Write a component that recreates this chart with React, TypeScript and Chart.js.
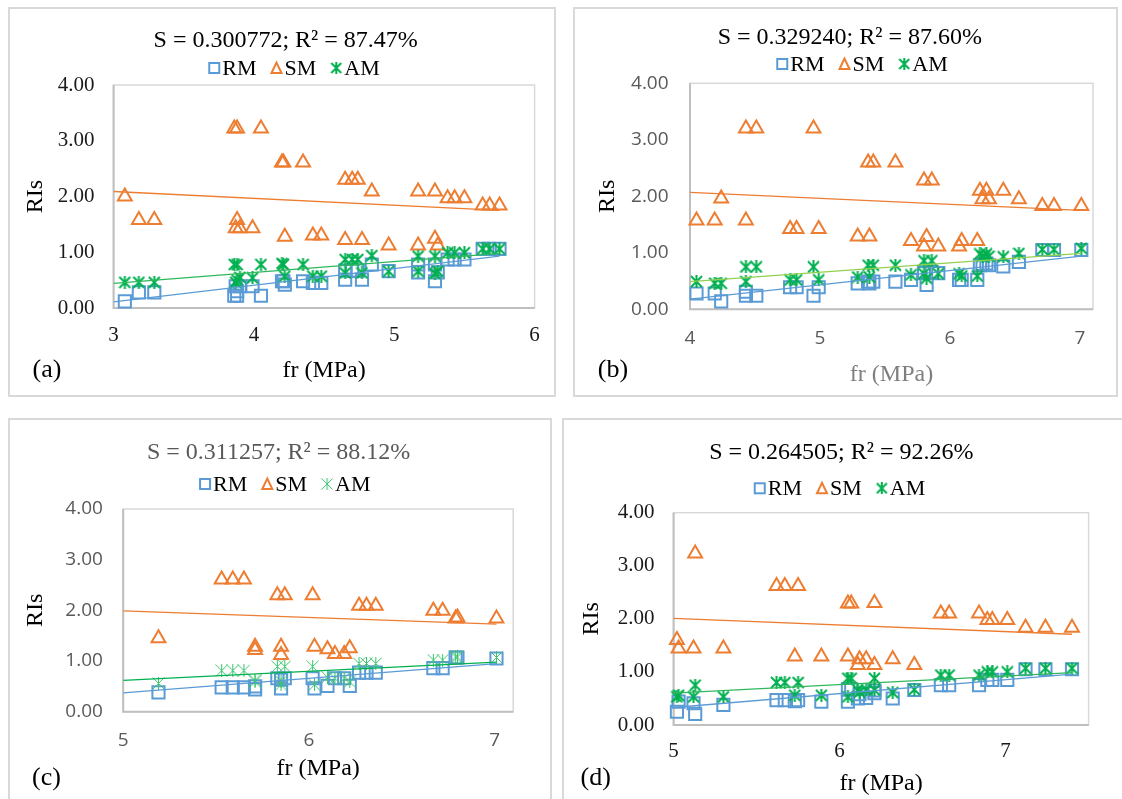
import React, { useEffect, useRef } from "react";
import { Chart, registerables } from "chart.js";

Chart.register(...registerables);

const SERIES = ["RM", "SM", "AM"];
const BLUE = "#5B9BD5";
const ORANGE = "#ED7D31";
const GREEN = "#00B050";
const SERIF = "'Liberation Serif', 'Times New Roman', serif";
const SANS = "'Open Sans', 'Liberation Sans', sans-serif";
const Y_TICKS = [0, 1, 2, 3, 4];

// (a) fr in MPa and the three RI series
const frA = [3.08, 3.18, 3.29, 3.86, 3.88, 3.87, 3.88, 3.9, 3.99, 4.05, 4.2, 4.21, 4.22, 4.35, 4.42, 4.48, 4.65, 4.65, 4.7, 4.74, 4.77, 4.84, 4.96, 5.17, 5.17, 5.29, 5.29, 5.31, 5.38, 5.43, 5.5, 5.63, 5.68, 5.75];
const rmA = [0.12, 0.28, 0.28, 0.22, 0.22, 0.39, 0.3, 0.39, 0.39, 0.22, 0.48, 0.48, 0.42, 0.48, 0.45, 0.45, 0.67, 0.51, 0.67, 0.67, 0.51, 0.78, 0.66, 0.78, 0.64, 0.78, 0.48, 0.64, 0.87, 0.87, 0.87, 1.06, 1.06, 1.06];
const smA = [2.0, 1.58, 1.58, 3.22, 3.22, 1.43, 1.58, 1.43, 1.43, 3.22, 2.61, 2.61, 1.28, 2.61, 1.3, 1.3, 2.3, 1.22, 2.3, 2.3, 1.22, 2.09, 1.12, 2.09, 1.12, 2.09, 1.24, 1.12, 1.97, 1.97, 1.97, 1.84, 1.84, 1.84];
const amA = [0.46, 0.46, 0.46, 0.78, 0.78, 0.46, 0.5, 0.55, 0.54, 0.78, 0.8, 0.78, 0.57, 0.78, 0.57, 0.57, 0.87, 0.63, 0.87, 0.87, 0.63, 0.94, 0.66, 0.93, 0.66, 0.93, 0.62, 0.66, 0.99, 0.99, 0.99, 1.06, 1.06, 1.06];
const xTicksA = [3, 4, 5, 6];
// fitted model lines: value at the axis start and at the last fr
const rmFitA = [0.11, 0.93];
const smFitA = [2.09, 1.75];
const amFitA = [0.44, 0.98];

// (b)
const frB = [4.05, 4.19, 4.24, 4.43, 4.43, 4.51, 4.77, 4.82, 4.95, 4.99, 5.29, 5.37, 5.38, 5.41, 5.58, 5.7, 5.8, 5.8, 5.82, 5.86, 5.91, 6.07, 6.09, 6.21, 6.23, 6.25, 6.28, 6.3, 6.41, 6.53, 6.71, 6.8, 7.01];
const rmB = [0.28, 0.28, 0.14, 0.24, 0.31, 0.24, 0.39, 0.39, 0.24, 0.39, 0.46, 0.49, 0.46, 0.49, 0.49, 0.52, 0.64, 0.66, 0.43, 0.66, 0.64, 0.52, 0.52, 0.52, 0.78, 0.8, 0.81, 0.78, 0.76, 0.84, 1.05, 1.05, 1.05];
const smB = [1.57, 1.57, 1.96, 3.2, 1.57, 3.2, 1.42, 1.42, 3.2, 1.42, 1.29, 2.6, 1.29, 2.6, 2.6, 1.21, 2.28, 1.11, 1.28, 2.28, 1.11, 1.11, 1.21, 1.21, 2.1, 1.95, 2.1, 1.95, 2.1, 1.95, 1.83, 1.83, 1.83];
const amB = [0.49, 0.46, 0.46, 0.75, 0.49, 0.75, 0.52, 0.52, 0.75, 0.52, 0.57, 0.78, 0.57, 0.78, 0.78, 0.61, 0.86, 0.63, 0.55, 0.86, 0.63, 0.63, 0.59, 0.59, 0.98, 0.94, 0.98, 0.94, 0.93, 0.99, 1.06, 1.06, 1.08];
const xTicksB = [4, 5, 6, 7];
const rmFitB = [0.18, 0.94];
const smFitB = [2.07, 1.75];
const amFitB = [0.49, 0.99];

// (c)
const frC = [5.19, 5.53, 5.59, 5.65, 5.71, 5.71, 5.83, 5.85, 5.85, 5.87, 6.02, 6.03, 6.1, 6.14, 6.19, 6.22, 6.27, 6.31, 6.36, 6.67, 6.72, 6.79, 6.8, 7.01];
const rmC = [0.38, 0.48, 0.48, 0.48, 0.44, 0.5, 0.66, 0.46, 0.63, 0.66, 0.66, 0.46, 0.51, 0.66, 0.66, 0.51, 0.77, 0.77, 0.77, 0.86, 0.86, 1.07, 1.07, 1.05];
const smC = [1.45, 2.61, 2.61, 2.61, 1.28, 1.22, 2.3, 1.28, 1.12, 2.3, 2.3, 1.28, 1.23, 1.14, 1.14, 1.25, 2.09, 2.09, 2.09, 1.99, 1.99, 1.84, 1.86, 1.84];
const amC = [0.56, 0.81, 0.81, 0.81, 0.59, 0.62, 0.89, 0.53, 0.6, 0.89, 0.89, 0.53, 0.68, 0.66, 0.66, 0.59, 0.95, 0.95, 0.95, 1.02, 1.02, 1.08, 1.08, 1.07];
const xTicksC = [5, 6, 7];
const rmFitC = [0.37, 0.95];
const smFitC = [1.99, 1.73];
const amFitC = [0.62, 0.98];

// (d)
const frD = [5.02, 5.03, 5.12, 5.13, 5.3, 5.62, 5.67, 5.73, 5.75, 5.89, 6.05, 6.05, 6.07, 6.11, 6.12, 6.16, 6.21, 6.21, 6.32, 6.45, 6.61, 6.66, 6.84, 6.89, 6.92, 7.01, 7.12, 7.24, 7.4];
const rmD = [0.25, 0.44, 0.41, 0.21, 0.38, 0.47, 0.47, 0.45, 0.47, 0.44, 0.44, 0.67, 0.67, 0.5, 0.58, 0.51, 0.65, 0.6, 0.5, 0.66, 0.75, 0.75, 0.75, 0.85, 0.85, 0.85, 1.05, 1.05, 1.05];
const smD = [1.6, 1.44, 1.44, 3.23, 1.44, 2.62, 2.62, 1.29, 2.62, 1.29, 1.29, 2.29, 2.29, 1.13, 1.24, 1.24, 2.3, 1.13, 1.24, 1.13, 2.1, 2.1, 2.1, 1.98, 1.98, 1.98, 1.83, 1.83, 1.83];
const amD = [0.53, 0.56, 0.53, 0.75, 0.53, 0.8, 0.8, 0.56, 0.8, 0.56, 0.53, 0.88, 0.88, 0.66, 0.62, 0.66, 0.88, 0.66, 0.61, 0.67, 0.94, 0.94, 0.94, 1.0, 1.0, 1.0, 1.07, 1.07, 1.07];
const xTicksD = [5, 6, 7];
const rmFitD = [0.33, 0.96];
const smFitD = [2.01, 1.71];
const amFitD = [0.6, 0.985];

const titles = [
  "S = 0.300772; R² = 87.47%",
  "S = 0.329240; R² = 87.60%",
  "S = 0.311257; R² = 88.12%",
  "S = 0.264505; R² = 92.26%",
];

type Box = { x: number; y: number; w: number; h: number };
type Plot = { l: number; r: number; t: number; b: number };

interface PanelSpec {
  tag: string;
  title: string;
  titleColor: string;
  fr: number[];
  rm: number[];
  sm: number[];
  am: number[];
  rmFit: number[];
  smFit: number[];
  amFit: number[];
  xMin: number;
  xMax: number;
  xTicks: number[];
  box: Box;
  plot: Plot;
  titleX: number;
  titleY: number;
  legendX: number;
  legendY: number;
  yTickRight: number;
  yTitleX: number;
  xTickY: number;
  xTitleY: number;
  labelX: number;
  labelY: number;
  tickFamily: string;
  tickSize: number;
  tickColor: string;
  xTitleColor: string;
  amColor: string;
  amWidth: number;
  amTrendColor: string;
}

const panels: PanelSpec[] = [
  {
    tag: "(a)", title: titles[0], titleColor: "#000",
    fr: frA, rm: rmA, sm: smA, am: amA, rmFit: rmFitA, smFit: smFitA, amFit: amFitA,
    xMin: 3, xMax: 6, xTicks: xTicksA,
    box: { x: 8, y: 7, w: 548, h: 390 },
    plot: { l: 113.6, r: 534.6, t: 85, b: 308 },
    titleX: 285.7, titleY: 41, legendX: 294, legendY: 68,
    yTickRight: 94.6, yTitleX: 35.7, xTickY: 335, xTitleY: 370.7,
    labelX: 47, labelY: 370,
    tickFamily: SERIF, tickSize: 21, tickColor: "#1a1a1a", xTitleColor: "#000",
    amColor: GREEN, amWidth: 2, amTrendColor: "#2EB85C",
  },
  {
    tag: "(b)", title: titles[1], titleColor: "#000",
    fr: frB, rm: rmB, sm: smB, am: amB, rmFit: rmFitB, smFit: smFitB, amFit: amFitB,
    xMin: 4, xMax: 7.1, xTicks: xTicksB,
    box: { x: 573, y: 7, w: 545, h: 390 },
    plot: { l: 690, r: 1093, t: 83.3, b: 309.3 },
    titleX: 849.8, titleY: 37.5, legendX: 862, legendY: 64,
    yTickRight: 668.6, yTitleX: 608, xTickY: 339, xTitleY: 375,
    labelX: 613, labelY: 370,
    tickFamily: SANS, tickSize: 19, tickColor: "#595959", xTitleColor: "#7F7F7F",
    amColor: GREEN, amWidth: 2, amTrendColor: "#92D050",
  },
  {
    tag: "(c)", title: titles[2], titleColor: "#595959",
    fr: frC, rm: rmC, sm: smC, am: amC, rmFit: rmFitC, smFit: smFitC, amFit: amFitC,
    xMin: 5, xMax: 7.1, xTicks: xTicksC,
    box: { x: 8, y: 418, w: 544, h: 390 },
    plot: { l: 123.2, r: 513.2, t: 509, b: 711.7 },
    titleX: 278.6, titleY: 453, legendX: 284.8, legendY: 484,
    yTickRight: 102.9, yTitleX: 35.7, xTickY: 740.7, xTitleY: 768.3,
    labelX: 46.4, labelY: 778,
    tickFamily: SANS, tickSize: 19, tickColor: "#595959", xTitleColor: "#000",
    amColor: "#3CC46E", amWidth: 1, amTrendColor: GREEN,
  },
  {
    tag: "(d)", title: titles[3], titleColor: "#000",
    fr: frD, rm: rmD, sm: smD, am: amD, rmFit: rmFitD, smFit: smFitD, amFit: amFitD,
    xMin: 5, xMax: 7.5, xTicks: xTicksD,
    box: { x: 562, y: 418, w: 570, h: 390 },
    plot: { l: 673.6, r: 1088.6, t: 512.7, b: 725 },
    titleX: 841.3, titleY: 453, legendX: 839.5, legendY: 488.3,
    yTickRight: 654.6, yTitleX: 591.4, xTickY: 751.7, xTitleY: 783.3,
    labelX: 595.7, labelY: 778,
    tickFamily: SERIF, tickSize: 21, tickColor: "#1a1a1a", xTitleColor: "#000",
    amColor: GREEN, amWidth: 2, amTrendColor: "#2EB85C",
  },
];

// Asterisk marker: an X crossed by a vertical bar
function makeAsterisk(color: string, size: number, lw: number): HTMLCanvasElement {
  const c = document.createElement("canvas");
  c.width = size;
  c.height = size;
  const g = c.getContext("2d")!;
  g.strokeStyle = color;
  g.lineWidth = lw;
  const p = lw / 2;
  g.beginPath();
  g.moveTo(p, p);
  g.lineTo(size - p, size - p);
  g.moveTo(size - p, p);
  g.lineTo(p, size - p);
  g.moveTo(size / 2, 0);
  g.lineTo(size / 2, size);
  g.stroke();
  return c;
}

function buildConfig(s: PanelSpec): any {
  const ox = s.box.x;
  const oy = s.box.y;
  const W = s.box.w;
  const H = s.box.h;
  const plotL = s.plot.l - ox;
  const plotR = s.plot.r - ox;
  const plotT = s.plot.t - oy;
  const plotB = s.plot.b - oy;
  const axisTitleSize = 24;
  const lhTitle = axisTitleSize * 1.2;
  const lhTick = s.tickSize * 1.2;
  const star = makeAsterisk(s.amColor, 13, s.amWidth);
  const legendStar = makeAsterisk(s.amColor, 12, s.amWidth);
  const xEnd = Math.max(...s.fr);

  const pts = (ys: number[]) => s.fr.map((x, i) => ({ x, y: ys[i] }));
  const fitLine = (ends: number[], color: string) => ({
    label: "",
    data: [
      { x: s.xMin, y: ends[0] },
      { x: xEnd, y: ends[1] },
    ],
    showLine: true,
    pointRadius: 0,
    borderColor: color,
    borderWidth: 1.3,
    order: 0,
  });

  const decor = {
    id: "panelDecor",
    beforeDatasetsDraw(chart: any) {
      const { ctx, chartArea: a } = chart;
      ctx.save();
      ctx.strokeStyle = "#D9D9D9";
      ctx.lineWidth = 1.5;
      ctx.strokeRect(a.left, a.top, a.right - a.left, a.bottom - a.top);
      ctx.strokeStyle = "#BFBFBF";
      ctx.lineWidth = 2;
      ctx.beginPath();
      ctx.moveTo(a.left, a.top);
      ctx.lineTo(a.left, a.bottom);
      ctx.lineTo(a.right, a.bottom);
      ctx.stroke();
      ctx.restore();
    },
    afterDraw(chart: any) {
      const { ctx } = chart;
      ctx.save();
      ctx.textBaseline = "middle";
      // title
      ctx.textAlign = "center";
      ctx.fillStyle = s.titleColor;
      ctx.font = `24px ${SERIF}`;
      ctx.fillText(s.title, s.titleX - ox, s.titleY - oy);
      // legend
      ctx.font = `22px ${SERIF}`;
      ctx.textAlign = "left";
      const markerW = 12;
      const gap = 2;
      const spacing = 14;
      const widths = SERIES.map((n) => ctx.measureText(n).width);
      const total = widths.reduce((a2, w) => a2 + markerW + gap + w, 0) + spacing * (SERIES.length - 1);
      let x = s.legendX - ox - total / 2;
      const cy = s.legendY - oy;
      SERIES.forEach((name, i) => {
        if (i === 0) {
          ctx.strokeStyle = BLUE;
          ctx.lineWidth = 2;
          ctx.strokeRect(x + 1, cy - 5, 10, 10);
        } else if (i === 1) {
          ctx.strokeStyle = ORANGE;
          ctx.lineWidth = 2;
          ctx.beginPath();
          ctx.moveTo(x + 1, cy + 5);
          ctx.lineTo(x + 11, cy + 5);
          ctx.lineTo(x + 6, cy - 5.5);
          ctx.closePath();
          ctx.stroke();
        } else {
          ctx.drawImage(legendStar, x, cy - 6);
        }
        ctx.fillStyle = "#000";
        ctx.fillText(name, x + markerW + gap, cy + 1);
        x += markerW + gap + widths[i] + spacing;
      });
      // panel tag
      ctx.font = `26px ${SERIF}`;
      ctx.textAlign = "center";
      ctx.fillText(s.tag, s.labelX - ox, s.labelY - oy);
      ctx.restore();
    },
  };

  return {
    type: "scatter",
    data: {
      datasets: [
        {
          label: "RM",
          data: pts(s.rm),
          pointStyle: "rect",
          pointRadius: 8.6,
          borderColor: BLUE,
          backgroundColor: "rgba(0,0,0,0)",
          borderWidth: 2,
          order: 3,
          clip: false,
        },
        {
          label: "SM",
          data: pts(s.sm),
          pointStyle: "triangle",
          pointRadius: 8,
          borderColor: ORANGE,
          backgroundColor: "rgba(0,0,0,0)",
          borderWidth: 2,
          order: 2,
          clip: false,
        },
        {
          label: "AM",
          data: pts(s.am),
          pointStyle: star,
          pointRadius: 7,
          borderColor: s.amColor,
          backgroundColor: s.amColor,
          order: 1,
          clip: false,
        },
        fitLine(s.smFit, ORANGE),
        fitLine(s.amFit, s.amTrendColor),
        fitLine(s.rmFit, BLUE),
      ],
    },
    options: {
      animation: false,
      responsive: false,
      events: [],
      layout: { padding: { left: 0, top: plotT, right: W - plotR, bottom: 0 } },
      plugins: {
        legend: { display: false },
        title: { display: false },
        tooltip: { enabled: false },
      },
      scales: {
        x: {
          type: "linear",
          position: "bottom",
          min: s.xMin,
          max: s.xMax,
          afterBuildTicks: (sc: any) => {
            sc.ticks = s.xTicks.map((v) => ({ value: v }));
          },
          afterFit: (sc: any) => {
            sc.height = H - plotB;
          },
          grid: { display: false, drawTicks: false },
          border: { display: false },
          ticks: {
            font: { family: s.tickFamily, size: s.tickSize },
            color: s.tickColor,
            padding: s.xTickY - oy - plotB - lhTick / 2,
            callback: (v: any) => String(v),
          },
          title: {
            display: true,
            text: "fr (MPa)",
            font: { family: SERIF, size: axisTitleSize },
            color: s.xTitleColor,
            padding: { top: 0, bottom: H - (s.xTitleY - oy) - lhTitle / 2 },
          },
        },
        y: {
          type: "linear",
          min: 0,
          max: 4,
          afterBuildTicks: (sc: any) => {
            sc.ticks = Y_TICKS.map((v) => ({ value: v }));
          },
          afterFit: (sc: any) => {
            sc.width = plotL;
          },
          grid: { display: false, drawTicks: false },
          border: { display: false },
          ticks: {
            font: { family: s.tickFamily, size: s.tickSize },
            color: s.tickColor,
            padding: plotL - (s.yTickRight - ox),
            callback: (v: any) => Number(v).toFixed(2),
          },
          title: {
            display: true,
            text: "RIs",
            font: { family: SERIF, size: axisTitleSize },
            color: "#000",
            padding: { top: s.yTitleX - ox - lhTitle / 2, bottom: 0 },
          },
        },
      },
    },
    plugins: [decor],
  };
}

function Panel({ spec }: { spec: PanelSpec }) {
  const ref = useRef<HTMLCanvasElement | null>(null);
  useEffect(() => {
    if (!ref.current) return;
    const chart = new Chart(ref.current, buildConfig(spec));
    return () => chart.destroy();
  }, [spec]);
  const { x, y, w, h } = spec.box;
  return (
    <>
      <div
        style={{
          position: "absolute",
          left: x,
          top: y,
          width: w,
          height: h,
          border: "2px solid #D9D9D9",
          boxSizing: "border-box",
        }}
      />
      <canvas
        ref={ref}
        width={w}
        height={h}
        style={{ position: "absolute", left: x, top: y, width: w, height: h }}
      />
    </>
  );
}

export default function App() {
  return (
    <div
      style={{
        position: "fixed",
        left: 0,
        top: 0,
        width: 1122,
        height: 799,
        overflow: "hidden",
        background: "#fff",
      }}
    >
      {panels.map((p) => (
        <Panel key={p.tag} spec={p} />
      ))}
    </div>
  );
}
